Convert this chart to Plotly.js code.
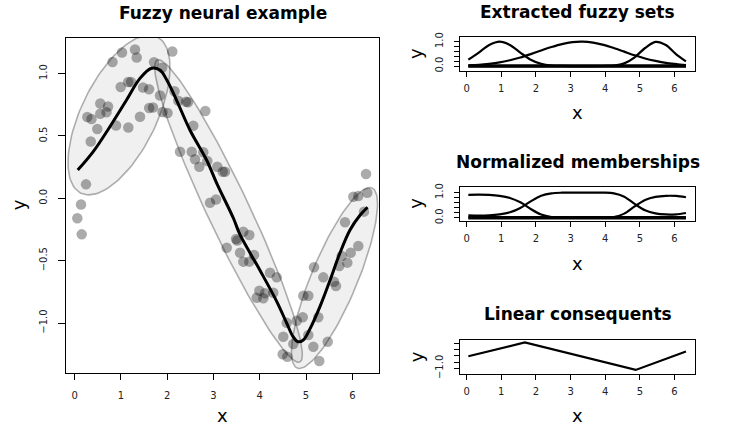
<!DOCTYPE html>
<html><head><meta charset="utf-8">
<script src="https://cdn.plot.ly/plotly-3.0.1.min.js"></script>
<style>html,body{margin:0;padding:0;background:#fff}#chart{width:730px;height:430px}</style>
</head><body><div id="chart"></div>
<script>
// ---- Data ----
const ptX = [0.056,0.151,0.136,0.244,0.346,0.488,0.272,0.363,0.553,0.720,
             0.553,0.687,0.893,1.158,0.817,1.022,1.303,1.340,0.994,1.156,
             1.217,1.476,1.606,1.411,1.610,1.692,1.714,1.887,1.844,1.898,
             2.006,2.109,2.157,2.239,2.405,2.449,2.823,2.563,2.276,2.529,
             2.779,2.600,2.693,2.866,3.082,3.199,3.248,2.924,3.054,3.285,
             3.486,3.514,3.644,3.774,3.573,3.644,3.774,3.875,3.933,4.076,
             3.990,4.113,4.292,4.221,4.366,4.582,4.508,4.495,4.595,4.724,
             4.798,4.928,4.941,5.049,5.049,5.157,5.265,5.286,5.172,5.373,
             5.468,5.604,5.647,5.719,5.770,5.842,5.892,5.965,6.129,6.252,
             6.021,6.129,6.324,6.296];
const ptY = [-0.160,-0.289,-0.050,0.112,0.455,0.556,0.652,0.636,0.760,0.736,
             0.678,0.690,0.584,0.568,1.093,1.169,1.193,1.129,0.893,0.933,
             0.933,0.889,0.875,0.654,0.724,0.728,1.091,1.047,0.824,0.692,
             0.684,1.177,0.859,0.783,0.775,0.770,0.700,0.582,0.374,0.374,
             0.369,0.313,0.253,0.299,0.253,0.213,0.213,-0.035,-0.010,-0.396,
             -0.326,-0.338,-0.268,-0.294,-0.436,-0.508,-0.508,-0.455,-0.797,-0.802,
             -0.741,-0.762,-0.757,-0.597,-0.634,-0.998,-1.110,-1.251,-1.270,-1.168,
             -0.982,-0.954,-0.781,-0.781,-1.096,-1.190,-0.954,-1.305,-0.553,-0.634,
             -1.150,-0.669,-0.703,-0.543,-0.463,-0.192,-0.516,-0.436,-0.383,-0.107,
             0.013,0.018,0.045,0.195];

const fitX = [0.065,0.40,0.76,1.12,1.41,1.66,1.84,1.99,2.20,2.49,2.85,3.07,3.43,3.57,4.00,4.37,4.58,4.72,4.82,4.94,5.09,5.30,5.52,5.73,5.95,6.17,6.33];
const fitY = [0.226,0.374,0.574,0.788,0.962,1.043,1.029,0.949,0.788,0.548,0.307,0.12,-0.16,-0.29,-0.575,-0.83,-1.0,-1.11,-1.15,-1.136,-1.043,-0.869,-0.655,-0.441,-0.254,-0.134,-0.072];

// cluster ellipses: centre and the two semi-axis vectors, in data units
const ellCx = [0.957, 3.324, 5.615];
const ellCy = [0.668, -0.102, -0.639];
const ellAx = [0.823, 1.541, 0.809];
const ellAy = [0.627, -1.211, 0.722];
const ellBx = [0.733, 0.411, 0.459];
const ellBy = [-0.132, 0.072, -0.071];

const gridX = [0.05,0.35,0.65,0.95,1.25,1.55,1.85,2.15,2.45,2.75,3.05,3.35,3.65,3.95,4.25,4.55,4.85,5.15,5.45,5.75,6.05,6.33];
const set1  = [0.26,0.55,0.86,1.00,0.86,0.55,0.26,0.09,0.02,0.005,0,0,0,0,0,0,0,0,0,0,0,0];
const set2  = [0.03,0.05,0.09,0.15,0.24,0.35,0.49,0.64,0.78,0.90,0.98,1.00,0.96,0.87,0.74,0.59,0.44,0.31,0.21,0.13,0.08,0.04];
const set3  = [0,0,0,0,0,0,0,0,0,0,0,0,0,0.003,0.02,0.11,0.36,0.74,0.99,0.86,0.48,0.19];
const norm1 = [0.907,0.915,0.905,0.868,0.784,0.611,0.349,0.127,0.030,0.006,0.001,0,0,0,0,0,0,0,0,0,0,0];
const norm2 = [0.093,0.085,0.095,0.132,0.216,0.389,0.651,0.873,0.970,0.994,0.999,1,1,0.997,0.970,0.837,0.549,0.295,0.172,0.130,0.136,0.188];
const norm3 = [0,0,0,0,0,0,0,0,0,0,0,0,0,0.003,0.030,0.163,0.451,0.705,0.828,0.870,0.864,0.812];
const flatX = [0.05, 6.33];
const flatY = [0, 0];

const consX = [0.05, 1.68, 4.88, 6.33];
const consY = [-0.61, -0.17, -1.05, -0.46];

const mainXTicks = [0,1,2,3,4,5,6];
const mainYTicks = [-1,-0.5,0,0.5,1];
const mainYText  = ['\u22121.0','\u22120.5','0.0','0.5','1.0'];
const unitTicks  = [0,0.2,0.4,0.6,0.8,1];
const unitText   = ['0.0','','','','','1.0'];
const consTicks  = [-1,-0.8,-0.6,-0.4,-0.2];
const consText   = ['\u22121.0','','','',''];

// ---- Plot ----
const W = 730, H = 430;
const px = v => v / W, py = v => 1 - v / H;
const FONT = 'DejaVu Sans, Liberation Sans, Arial, sans-serif';

const traces = [];
for (let i = 0; i < ellCx.length; i++) {
  const ex = [], ey = [];
  for (let k = 0; k <= 120; k++) {
    const t = 2 * Math.PI * k / 120;
    ex.push(ellCx[i] + ellAx[i] * Math.cos(t) + ellBx[i] * Math.sin(t));
    ey.push(ellCy[i] + ellAy[i] * Math.cos(t) + ellBy[i] * Math.sin(t));
  }
  traces.push({x: ex, y: ey, xaxis: 'x', yaxis: 'y', mode: 'lines', fill: 'toself',
    fillcolor: 'rgba(120,120,120,0.11)', line: {color: 'rgba(0,0,0,0.3)', width: 1.6}, hoverinfo: 'skip'});
}
traces.push({x: ptX, y: ptY, xaxis: 'x', yaxis: 'y', mode: 'markers',
  marker: {size: 10.5, color: 'rgba(0,0,0,0.33)', line: {width: 0}}});
traces.push({x: fitX, y: fitY, xaxis: 'x', yaxis: 'y', mode: 'lines',
  line: {color: '#000', width: 3, shape: 'spline', smoothing: 1}});

const curve = (x, y, xa, ya, w) => ({x, y, xaxis: xa, yaxis: ya, mode: 'lines',
  line: {color: '#000', width: w, shape: 'spline', smoothing: 0.8}});
traces.push(curve(flatX, flatY, 'x2', 'y2', 3.5));
traces.push(curve(gridX, set1, 'x2', 'y2', 2.2));
traces.push(curve(gridX, set2, 'x2', 'y2', 2.2));
traces.push(curve(gridX, set3, 'x2', 'y2', 2.2));
traces.push(curve(flatX, flatY, 'x3', 'y3', 3.5));
traces.push(curve(gridX, norm1, 'x3', 'y3', 2.2));
traces.push(curve(gridX, norm2, 'x3', 'y3', 2.2));
traces.push(curve(gridX, norm3, 'x3', 'y3', 2.2));
traces.push({x: consX, y: consY, xaxis: 'x4', yaxis: 'y4', mode: 'lines', line: {color: '#000', width: 2.2}});

function ax(extra) {
  return Object.assign({showgrid: false, zeroline: false, showline: true, mirror: true,
    linecolor: '#000', linewidth: 1, ticks: 'outside', tickcolor: '#000', tickwidth: 1,
    tickfont: {family: FONT, size: 10, color: '#222'}, fixedrange: true}, extra);
}
const smallXDom = [px(459.7), px(695.3)];
const layout = {
  width: W, height: H, margin: {l: 0, r: 0, t: 0, b: 0},
  paper_bgcolor: '#fff', plot_bgcolor: '#fff', showlegend: false,
  xaxis: ax({domain: [px(65.7), px(379.3)], range: [-0.195, 6.583], tickvals: mainXTicks, ticklen: 6, ticklabelstandoff: 7, anchor: 'y'}),
  yaxis: ax({domain: [py(373), py(37.7)], range: [-1.401, 1.288], tickvals: mainYTicks, ticktext: mainYText, tickangle: -90, ticklen: 7, ticklabelstandoff: 7, anchor: 'x'}),
  xaxis2: ax({domain: smallXDom, range: [-0.2, 6.6], tickvals: mainXTicks, ticklen: 5, ticklabelstandoff: 3, anchor: 'y2'}),
  yaxis2: ax({domain: [py(70.7), py(37)], range: [-0.19, 1.19], tickvals: unitTicks, ticktext: unitText, tickangle: -90, ticklen: 5, ticklabelstandoff: 7, anchor: 'x2'}),
  xaxis3: ax({domain: smallXDom, range: [-0.2, 6.6], tickvals: mainXTicks, ticklen: 5, ticklabelstandoff: 3, anchor: 'y3'}),
  yaxis3: ax({domain: [py(220.5), py(187)], range: [-0.11, 1.22], tickvals: unitTicks, ticktext: unitText, tickangle: -90, ticklen: 5, ticklabelstandoff: 7, anchor: 'x3'}),
  xaxis4: ax({domain: smallXDom, range: [-0.2, 6.6], tickvals: mainXTicks, ticklen: 5, ticklabelstandoff: 3, anchor: 'y4'}),
  yaxis4: ax({domain: [py(374), py(340.3)], range: [-1.18, -0.10], tickvals: consTicks, ticktext: consText, tickangle: -90, ticklen: 5, ticklabelstandoff: 7, anchor: 'x4'}),
  annotations: []
};
const ann = (text, x, y, size, bold, angle) => layout.annotations.push({
  text: bold ? '<b>' + text + '</b>' : text, x: px(x), y: py(y), xref: 'paper', yref: 'paper',
  xanchor: 'center', yanchor: 'middle', showarrow: false, textangle: angle || 0,
  font: {family: FONT, size: size, color: '#000'}});
ann('Fuzzy neural example', 222.5, 12.5, 17, true);
ann('Extracted fuzzy sets', 577.5, 11.7, 17, true);
ann('Normalized memberships', 577.5, 162, 17, true);
ann('Linear consequents', 577.5, 313.7, 17, true);
ann('x', 222.5, 415.5, 18);
ann('y', 18, 205.3, 18, false, -90);
ann('x', 577.7, 113, 18);
ann('x', 577.7, 263.7, 18);
ann('x', 577.7, 415.4, 18);
ann('y', 416, 53.9, 18, false, -90);
ann('y', 416, 203.8, 18, false, -90);
ann('y', 416, 357.2, 18, false, -90);

Plotly.newPlot('chart', traces, layout, {staticPlot: true, displayModeBar: false});
</script>
</body></html>
